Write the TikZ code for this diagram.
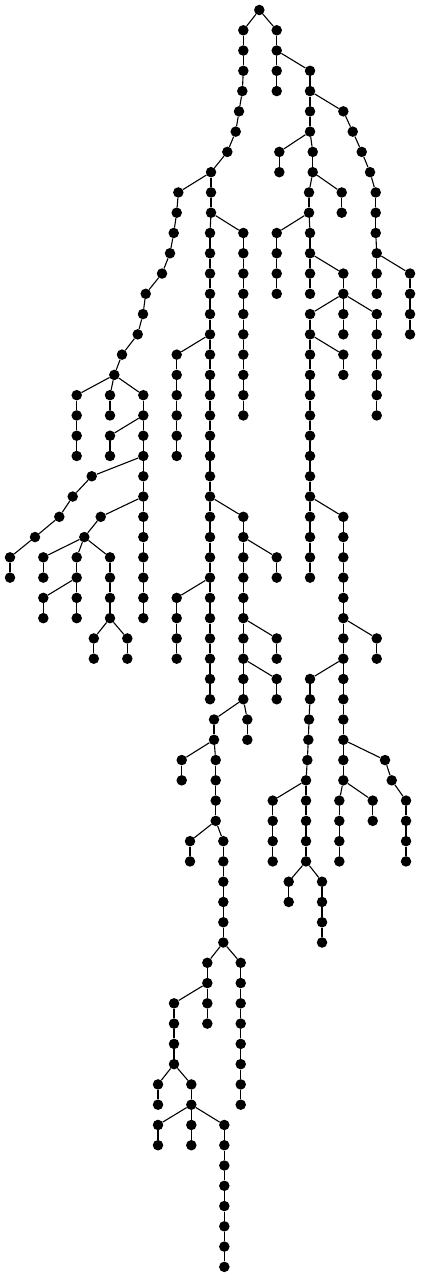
\documentclass[tikz,border=0pt]{standalone}
\usepackage{tikz}

\begin{document}
\begin{tikzpicture}
		[x=1pt,y=-20.27pt,every node/.style={circle,fill=black,inner sep=0pt,minimum size=10.5pt},edge/.style={line width=1.1pt}]
		\useasboundingbox (0,-0.4933) rectangle (420,62.5);
		% root and left spine
		\node (n1) at (259.3,0) {};
		\node (n2) at (243.3,1) {};
		\node (n3) at (243.3,2) {};
		\node (n4) at (243.3,3) {};
		\node (n5) at (242.3,4) {};
		\node (n6) at (239,5) {};
		\node (n7) at (235.7,6) {};
		\node (n8) at (227.3,7) {};
		\node (n9) at (211,8) {};
		\node (n10) at (178.3,9) {};
		\node (n11) at (176.7,10) {};
		\node (n12) at (173.7,11) {};
		\node (n13) at (170,12) {};
		\node (n14) at (162,13) {};
		\node (n15) at (145.7,14) {};
		\node (n16) at (143,15) {};
		\node (n17) at (137.7,16) {};
		\node (n18) at (122,17) {};
		\node (n19) at (114.3,18) {};
		\node (n20) at (76.7,19) {};
		\node (n21) at (76.7,20) {};
		\node (n22) at (76.7,21) {};
		\node (n23) at (76.7,22) {};
		\node (n24) at (110,19) {};
		\node (n25) at (110,20) {};
		\node (n26) at (143.3,19) {};
		\node (n27) at (143.3,20) {};
		\node (n28) at (110,21) {};
		\node (n29) at (110,22) {};
		\node (n30) at (143.3,21) {};
		\node (n31) at (143.3,22) {};
		\node (n32) at (91.7,23) {};
		\node (n33) at (72.7,24) {};
		\node (n34) at (59.3,25) {};
		\node (n35) at (35,26) {};
		\node (n36) at (10,27) {};
		\node (n37) at (10,28) {};
		\node (n38) at (143.3,23) {};
		\node (n39) at (143.3,24) {};
		\node (n40) at (100.7,25) {};
		\node (n41) at (84.3,26) {};
		\node (n42) at (43.3,27) {};
		\node (n43) at (43.3,28) {};
		\node (n44) at (76.7,27) {};
		\node (n45) at (76.7,28) {};
		\node (n46) at (43.3,29) {};
		\node (n47) at (43.3,30) {};
		\node (n48) at (76.7,29) {};
		\node (n49) at (76.7,30) {};
		\node (n50) at (110,27) {};
		\node (n51) at (110,28) {};
		\node (n52) at (110,29) {};
		\node (n53) at (110,30) {};
		\node (n54) at (93.8,31) {};
		\node (n55) at (93.8,32) {};
		\node (n56) at (127.3,31) {};
		\node (n57) at (127.3,32) {};
		\node (n58) at (143.3,25) {};
		\node (n59) at (143.3,26) {};
		\node (n60) at (143.3,27) {};
		\node (n61) at (143.3,28) {};
		\node (n62) at (143.3,29) {};
		\node (n63) at (143.3,30) {};
		% middle
		\node (n64) at (211,9) {};
		\node (n65) at (211,10) {};
		\node (n66) at (243.3,11) {};
		\node (n67) at (243.3,12) {};
		\node (n68) at (243.3,13) {};
		\node (n69) at (243.3,14) {};
		\node (n70) at (243.3,15) {};
		\node (n71) at (243.3,16) {};
		\node (n72) at (243.3,17) {};
		\node (n73) at (243.3,18) {};
		\node (n74) at (243.3,19) {};
		\node (n75) at (243.3,20) {};
		\node (n76) at (210,11) {};
		\node (n77) at (210,12) {};
		\node (n78) at (210,13) {};
		\node (n79) at (210,14) {};
		\node (n80) at (210,15) {};
		\node (n81) at (210,16) {};
		\node (n82) at (176.7,17) {};
		\node (n83) at (176.7,18) {};
		\node (n84) at (176.7,19) {};
		\node (n85) at (176.7,20) {};
		\node (n86) at (176.7,21) {};
		\node (n87) at (176.7,22) {};
		\node (n88) at (210,17) {};
		\node (n89) at (210,18) {};
		\node (n90) at (210,19) {};
		\node (n91) at (210,20) {};
		\node (n92) at (210,21) {};
		\node (n93) at (210,22) {};
		\node (n94) at (210,23) {};
		\node (n95) at (210,24) {};
		\node (n96) at (210,25) {};
		\node (n97) at (210,26) {};
		\node (n98) at (210,27) {};
		\node (n99) at (210,28) {};
		\node (n100) at (176.7,29) {};
		\node (n101) at (176.7,30) {};
		\node (n102) at (176.7,31) {};
		\node (n103) at (176.7,32) {};
		\node (n104) at (210,29) {};
		\node (n105) at (210,30) {};
		\node (n106) at (210,31) {};
		\node (n107) at (210,32) {};
		\node (n108) at (210,33) {};
		\node (n109) at (210,34) {};
		\node (n110) at (243.3,25) {};
		\node (n111) at (243.3,26) {};
		\node (n112) at (276.7,27) {};
		\node (n113) at (276.7,28) {};
		\node (n114) at (243.3,27) {};
		\node (n115) at (243.3,28) {};
		\node (n116) at (243.3,29) {};
		\node (n117) at (243.3,30) {};
		\node (n118) at (276.7,31) {};
		\node (n119) at (276.7,32) {};
		\node (n120) at (243.3,31) {};
		\node (n121) at (243.3,32) {};
		\node (n122) at (276.7,33) {};
		\node (n123) at (276.7,34) {};
		\node (n124) at (243.3,33) {};
		\node (n125) at (243.3,34) {};
		\node (n126) at (247.3,35) {};
		\node (n127) at (247.3,36) {};
		\node (n128) at (214,35) {};
		\node (n129) at (214,36) {};
		\node (n130) at (181.7,37) {};
		\node (n131) at (181.7,38) {};
		\node (n132) at (215.7,37) {};
		\node (n133) at (215.7,38) {};
		\node (n134) at (215.7,39) {};
		\node (n135) at (215.7,40) {};
		\node (n136) at (190,41) {};
		\node (n137) at (190,42) {};
		\node (n138) at (223.3,41) {};
		\node (n139) at (223.3,42) {};
		\node (n140) at (223.3,43) {};
		\node (n141) at (223.3,44) {};
		\node (n142) at (223.3,45) {};
		\node (n143) at (223.3,46) {};
		\node (n144) at (240.7,47) {};
		\node (n145) at (240.7,48) {};
		\node (n146) at (240.7,49) {};
		\node (n147) at (240.7,50) {};
		\node (n148) at (240.7,51) {};
		\node (n149) at (240.7,52) {};
		\node (n150) at (240.7,53) {};
		\node (n151) at (240.7,54) {};
		\node (n152) at (207.3,47) {};
		\node (n153) at (207.3,48) {};
		\node (n154) at (207.3,49) {};
		\node (n155) at (207.3,50) {};
		\node (n156) at (174,49) {};
		\node (n157) at (174,50) {};
		\node (n158) at (174,51) {};
		\node (n159) at (174,52) {};
		\node (n160) at (158,53) {};
		\node (n161) at (158,54) {};
		\node (n162) at (191.3,53) {};
		\node (n163) at (191.3,54) {};
		\node (n164) at (158,55) {};
		\node (n165) at (158,56) {};
		\node (n166) at (191.3,55) {};
		\node (n167) at (191.3,56) {};
		\node (n168) at (224.3,55) {};
		\node (n169) at (224.3,56) {};
		\node (n170) at (224.3,57) {};
		\node (n171) at (224.3,58) {};
		\node (n172) at (224.3,59) {};
		\node (n173) at (224.3,60) {};
		\node (n174) at (224.3,61) {};
		\node (n175) at (224.3,62) {};
		% right side
		\node (n176) at (276.7,1) {};
		\node (n177) at (276.7,2) {};
		\node (n178) at (276.7,3) {};
		\node (n179) at (276.7,4) {};
		\node (n180) at (310,3) {};
		\node (n181) at (310,4) {};
		\node (n182) at (343.3,5) {};
		\node (n183) at (352.7,6) {};
		\node (n184) at (361.7,7) {};
		\node (n185) at (370,8) {};
		\node (n186) at (375.7,9) {};
		\node (n187) at (375.7,10) {};
		\node (n188) at (375.7,11) {};
		\node (n189) at (376.7,12) {};
		\node (n190) at (376.7,13) {};
		\node (n191) at (376.7,14) {};
		\node (n192) at (410,13) {};
		\node (n193) at (410,14) {};
		\node (n194) at (410,15) {};
		\node (n195) at (410,16) {};
		\node (n196) at (310,5) {};
		\node (n197) at (310,6) {};
		\node (n198) at (279.3,7) {};
		\node (n199) at (279.3,8) {};
		\node (n200) at (312.7,7) {};
		\node (n201) at (312.7,8) {};
		\node (n202) at (341.7,9) {};
		\node (n203) at (341.7,10) {};
		\node (n204) at (309,9) {};
		\node (n205) at (309,10) {};
		\node (n206) at (276.7,11) {};
		\node (n207) at (276.7,12) {};
		\node (n208) at (276.7,13) {};
		\node (n209) at (276.7,14) {};
		\node (n210) at (310,11) {};
		\node (n211) at (310,12) {};
		\node (n212) at (310,13) {};
		\node (n213) at (310,14) {};
		\node (n214) at (343.3,13) {};
		\node (n215) at (343.3,14) {};
		\node (n216) at (343.3,15) {};
		\node (n217) at (343.3,16) {};
		\node (n218) at (376.7,15) {};
		\node (n219) at (376.7,16) {};
		\node (n220) at (376.7,17) {};
		\node (n221) at (376.7,18) {};
		\node (n222) at (376.7,19) {};
		\node (n223) at (376.7,20) {};
		\node (n224) at (310,15) {};
		\node (n225) at (310,16) {};
		\node (n226) at (343.3,17) {};
		\node (n227) at (343.3,18) {};
		\node (n228) at (310,17) {};
		\node (n229) at (310,18) {};
		\node (n230) at (310,19) {};
		\node (n231) at (310,20) {};
		\node (n232) at (310,21) {};
		\node (n233) at (310,22) {};
		\node (n234) at (310,23) {};
		\node (n235) at (310,24) {};
		\node (n236) at (310,25) {};
		\node (n237) at (310,26) {};
		\node (n238) at (310,27) {};
		\node (n239) at (310,28) {};
		\node (n240) at (343.3,25) {};
		\node (n241) at (343.3,26) {};
		\node (n242) at (343.3,27) {};
		\node (n243) at (343.3,28) {};
		\node (n244) at (343.3,29) {};
		\node (n245) at (343.3,30) {};
		\node (n246) at (376.7,31) {};
		\node (n247) at (376.7,32) {};
		\node (n248) at (343.3,31) {};
		\node (n249) at (343.3,32) {};
		\node (n250) at (310,33) {};
		\node (n251) at (310,34) {};
		\node (n252) at (309,35) {};
		\node (n253) at (308.3,36) {};
		\node (n254) at (307.3,37) {};
		\node (n255) at (306,38) {};
		\node (n256) at (272.7,39) {};
		\node (n257) at (272.7,40) {};
		\node (n258) at (272.7,41) {};
		\node (n259) at (272.7,42) {};
		\node (n260) at (306,39) {};
		\node (n261) at (306,40) {};
		\node (n262) at (306,41) {};
		\node (n263) at (306,42) {};
		\node (n264) at (288.7,43) {};
		\node (n265) at (288.7,44) {};
		\node (n266) at (322,43) {};
		\node (n267) at (322,44) {};
		\node (n268) at (322,45) {};
		\node (n269) at (322,46) {};
		\node (n270) at (343.3,33) {};
		\node (n271) at (343.3,34) {};
		\node (n272) at (343.3,35) {};
		\node (n273) at (343.3,36) {};
		\node (n274) at (385,37) {};
		\node (n275) at (391.7,38) {};
		\node (n276) at (406,39) {};
		\node (n277) at (406,40) {};
		\node (n278) at (406,41) {};
		\node (n279) at (406,42) {};
		\node (n280) at (343.3,37) {};
		\node (n281) at (343.3,38) {};
		\node (n282) at (339.3,39) {};
		\node (n283) at (339.3,40) {};
		\node (n284) at (339.3,41) {};
		\node (n285) at (339.3,42) {};
		\node (n286) at (372.7,39) {};
		\node (n287) at (372.7,40) {};
		
		\foreach \from/\to in {1/2,2/3,3/4,4/5,5/6,6/7,7/8,8/9,9/10,10/11,11/12,12/13,13/14,14/15,15/16,16/17,17/18,18/19,
			19/20,20/21,21/22,22/23,19/24,24/25,19/26,26/27,27/28,28/29,27/30,30/31,
			31/32,32/33,33/34,34/35,35/36,36/37,31/38,38/39,39/40,40/41,41/42,42/43,41/44,44/45,45/46,46/47,45/48,48/49,
			41/50,50/51,51/52,52/53,53/54,54/55,53/56,56/57,39/58,58/59,59/60,60/61,61/62,62/63,
			9/64,64/65,65/66,66/67,67/68,68/69,69/70,70/71,71/72,72/73,73/74,74/75,
			65/76,76/77,77/78,78/79,79/80,80/81,81/82,82/83,83/84,84/85,85/86,86/87,
			81/88,88/89,89/90,90/91,91/92,92/93,93/94,94/95,95/96,96/97,97/98,98/99,
			99/100,100/101,101/102,102/103,99/104,104/105,105/106,106/107,107/108,108/109,
			95/110,110/111,111/112,112/113,111/114,114/115,115/116,116/117,117/118,118/119,117/120,120/121,
			121/122,122/123,121/124,124/125,125/126,126/127,125/128,128/129,129/130,130/131,
			129/132,132/133,133/134,134/135,135/136,136/137,135/138,138/139,139/140,140/141,141/142,142/143,
			143/144,144/145,145/146,146/147,147/148,148/149,149/150,150/151,143/152,152/153,153/154,154/155,
			153/156,156/157,157/158,158/159,159/160,160/161,159/162,162/163,163/164,164/165,163/166,166/167,
			163/168,168/169,169/170,170/171,171/172,172/173,173/174,174/175,
			1/176,176/177,177/178,178/179,177/180,180/181,181/182,182/183,183/184,184/185,185/186,186/187,187/188,188/189,
			189/190,190/191,189/192,192/193,193/194,194/195,181/196,196/197,197/198,198/199,197/200,200/201,
			201/202,202/203,201/204,204/205,205/206,206/207,207/208,208/209,205/210,210/211,211/212,212/213,
			211/214,214/215,215/216,216/217,215/218,218/219,219/220,220/221,221/222,222/223,215/224,224/225,
			225/226,226/227,225/228,228/229,229/230,230/231,231/232,232/233,233/234,234/235,
			235/236,236/237,237/238,238/239,235/240,240/241,241/242,242/243,243/244,244/245,
			245/246,246/247,245/248,248/249,249/250,250/251,251/252,252/253,253/254,254/255,
			255/256,256/257,257/258,258/259,255/260,260/261,261/262,262/263,263/264,264/265,
			263/266,266/267,267/268,268/269,249/270,270/271,271/272,272/273,
			273/274,274/275,275/276,276/277,277/278,278/279,273/280,280/281,281/282,282/283,283/284,284/285,281/286,286/287}
		\draw[edge] (n\from) -- (n\to);
		\end{tikzpicture}
\end{document}
